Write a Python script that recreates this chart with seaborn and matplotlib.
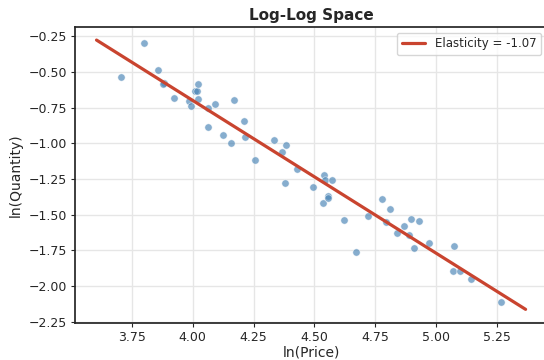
import numpy as np
import pandas as pd
import matplotlib
matplotlib.use("Agg")
import matplotlib.pyplot as plt
import seaborn as sns

# values (log price, log quantity)
ln_price = [3.705, 3.799, 3.856, 3.883, 3.877, 3.922, 3.985, 3.993, 4.008, 4.016,
            4.023, 4.022, 4.063, 4.090, 4.063, 4.168, 4.126, 4.210, 4.157, 4.215,
            4.257, 4.333, 4.384, 4.367, 4.429, 4.381, 4.494, 4.541, 4.545, 4.574,
            4.533, 4.554, 4.554, 4.620, 4.672, 4.721, 4.778, 4.810, 4.792, 4.839,
            4.866, 4.898, 4.928, 4.890, 4.908, 4.969, 5.074, 5.068, 5.096, 5.144,
            5.267]
ln_qty = [-0.537, -0.296, -0.486, -0.580, -0.585, -0.681, -0.702, -0.739, -0.634, -0.636,
          -0.585, -0.690, -0.751, -0.727, -0.889, -0.695, -0.939, -0.845, -0.998, -0.953,
          -1.120, -0.974, -1.012, -1.063, -1.183, -1.280, -1.305, -1.225, -1.256, -1.258,
          -1.418, -1.366, -1.385, -1.535, -1.763, -1.507, -1.387, -1.460, -1.551, -1.625,
          -1.577, -1.530, -1.544, -1.639, -1.735, -1.695, -1.718, -1.896, -1.892, -1.949,
          -2.108]

elasticity = -1.07
intercept = 3.58

df = pd.DataFrame({"ln_price": ln_price, "ln_qty": ln_qty})

sns.set_theme(style="whitegrid", rc={
    "axes.edgecolor": "0.15",
    "grid.color": "#e6e6e6",
    "xtick.bottom": True,
    "ytick.left": True,
})

fig = plt.figure(figsize=(5.44, 3.6), dpi=100)
ax = fig.add_axes([0.138, 0.1033, 0.8676, 0.8228])

sns.scatterplot(data=df, x="ln_price", y="ln_qty", ax=ax, color="steelblue",
                alpha=0.65, s=28, edgecolor="white", linewidth=0.5)

# fitted line over the data range, slightly extended
x_line = np.linspace(df["ln_price"].min() - 0.1, df["ln_price"].max() + 0.1, 100)
y_line = intercept + elasticity * x_line
ax.plot(x_line, y_line, color="#c9442f", linewidth=2.3,
        label=f"Elasticity = {elasticity:.2f}")

ax.set_title("Log-Log Space", fontsize=11, fontweight="bold", pad=5)
ax.set_xlabel("ln(Price)", fontsize=10, labelpad=1)
ax.set_ylabel("ln(Quantity)", fontsize=10)
ax.tick_params(labelsize=9, length=3, width=0.8, color="0.15", pad=3)
ax.legend(loc="upper right", fontsize=8.5, frameon=True)

fig.savefig("out.png", dpi=100)
